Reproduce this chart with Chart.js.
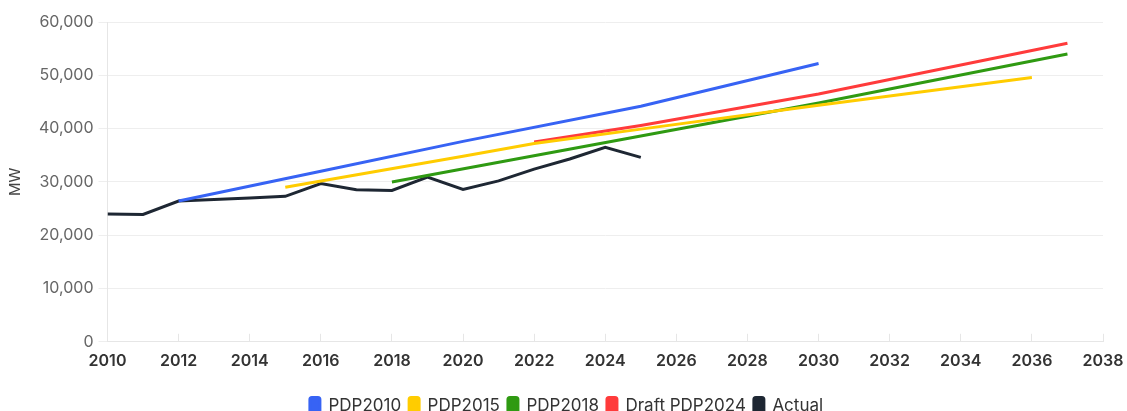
<!DOCTYPE html>
<html>
<head>
<meta charset="utf-8">
<script src="https://cdn.jsdelivr.net/npm/chart.js@4/dist/chart.umd.min.js"></script>
<style>
  html, body { margin: 0; padding: 0; background: #ffffff; }
  #wrap { width: 1127px; height: 411px; position: relative; }
</style>
</head>
<body>
<div id="wrap"><canvas id="chart"></canvas></div>
<script>
// Peak power demand (MW): actual values and the forecasts of each power development plan
const actualYears = [2010, 2011, 2012, 2013, 2014, 2015, 2016, 2017, 2018, 2019, 2020, 2021, 2022, 2023, 2024, 2025];
const actualMW    = [24000, 23900, 26400, 26700, 27000, 27300, 29700, 28550, 28400, 30900, 28600, 30200, 32400, 34300, 36500, 34600];

const pdp2010Years = [2012, 2016, 2020, 2025, 2030];
const pdp2010MW    = [26400, 32000, 37600, 44200, 52200];

const pdp2015Years = [2015, 2020, 2022, 2025, 2030, 2036];
const pdp2015MW    = [29000, 34800, 37200, 39900, 44400, 49600];

const pdp2018Years = [2018, 2025, 2030, 2037];
const pdp2018MW    = [30000, 38600, 44800, 54000];

const draft2024Years = [2022, 2025, 2030, 2037];
const draft2024MW    = [37500, 40600, 46500, 56000];

const seriesNames  = ['PDP2010', 'PDP2015', 'PDP2018', 'Draft PDP2024', 'Actual'];
const seriesColors = ['#3763f4', '#ffcc00', '#2f9a12', '#ff3b3b', '#1e2733'];

const xTickMin = 2010, xTickMax = 2038, xTickStep = 2;
const yTickMin = 0, yTickMax = 60000, yTickStep = 10000;

function pairs(xs, ys) { return xs.map((x, i) => ({ x: x, y: ys[i] })); }

const seriesData = [
  pairs(pdp2010Years, pdp2010MW),
  pairs(pdp2015Years, pdp2015MW),
  pairs(pdp2018Years, pdp2018MW),
  pairs(draft2024Years, draft2024MW),
  pairs(actualYears, actualMW)
];

const datasets = seriesNames.map((name, i) => ({
  label: name,
  data: seriesData[i],
  borderColor: seriesColors[i],
  backgroundColor: seriesColors[i],
  borderWidth: 3,
  pointRadius: 0,
  tension: 0,
  fill: false
}));

const FONT = "Inter, 'Noto Sans', sans-serif";
const AXIS_COLOR = '#e6e6e6';

// Keep the legend compact so the plot gets more height
const compactLegend = {
  id: 'compactLegend',
  beforeInit(chart) {
    const fit = chart.legend.fit;
    chart.legend.fit = function () {
      fit.call(this);
      this.height -= 13;
    };
  }
};

new Chart(document.getElementById('chart'), {
  type: 'line',
  data: { datasets: datasets },
  plugins: [compactLegend],
  options: {
    responsive: true,
    maintainAspectRatio: false,
    animation: false,
    layout: { padding: { top: 22, right: 0, left: 6, bottom: 0 } },
    plugins: {
      tooltip: { enabled: false },
      legend: {
        position: 'bottom',
        labels: {
          font: { family: FONT, size: 17 },
          color: '#333333',
          boxWidth: 10,
          boxHeight: 16,
          useBorderRadius: true,
          borderRadius: 2,
          padding: 8
        }
      }
    },
    scales: {
      x: {
        type: 'linear',
        min: xTickMin,
        max: xTickMax,
        // only leave room for half of the last year label on the right
        afterFit: scale => { scale.paddingRight = 24; },
        ticks: {
          stepSize: xTickStep,
          font: { family: FONT, size: 16, weight: '600' },
          color: '#333333',
          padding: 18,
          callback: v => String(v)
        },
        grid: {
          drawOnChartArea: false,
          tickLength: -8,
          color: AXIS_COLOR
        },
        border: { color: AXIS_COLOR }
      },
      y: {
        min: yTickMin,
        max: yTickMax,
        ticks: {
          stepSize: yTickStep,
          font: { family: FONT, size: 16 },
          color: '#666666',
          padding: 5,
          callback: v => v.toLocaleString('en-US')
        },
        grid: { color: '#eeeeee', tickLength: 9 },
        border: { color: AXIS_COLOR },
        title: {
          display: true,
          text: 'MW',
          font: { family: FONT, size: 15 },
          color: '#444444',
          padding: { top: 0, bottom: 10 }
        }
      }
    }
  }
});
</script>
</body>
</html>
